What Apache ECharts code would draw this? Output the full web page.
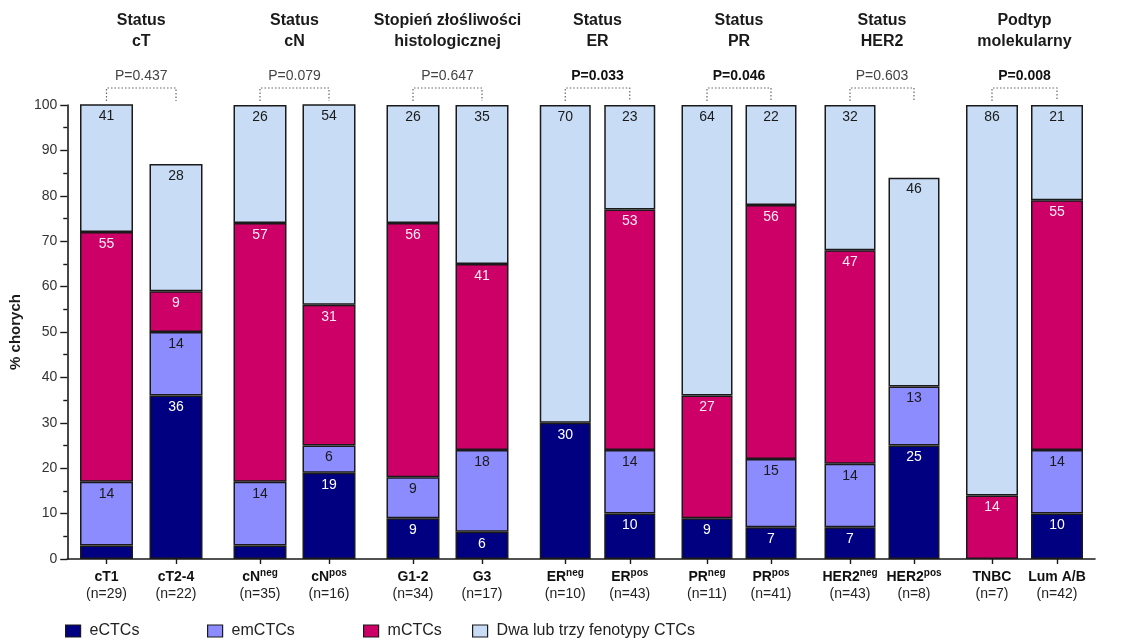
<!DOCTYPE html>
<html>
<head>
<meta charset="utf-8">
<title>Fenotypy CTCs a cechy kliniczne</title>
<script src="https://cdn.jsdelivr.net/npm/echarts@6/dist/echarts.min.js"></script>
<style>
  html, body { margin: 0; padding: 0; background: #fff; }
  #chart { width: 1132px; height: 641px; }
</style>
</head>
<body>
<div id="chart"></div>
<script>
// ---- data ----
const categories   = ['cT1', 'cT2-4', 'cN', 'cN', 'G1-2', 'G3', 'ER', 'ER', 'PR', 'PR', 'HER2', 'HER2', 'TNBC', 'Lum A/B'];
const categorySup  = ['', '', 'neg', 'pos', '', '', 'neg', 'pos', 'neg', 'pos', 'neg', 'pos', '', ''];
const patientCounts = [29, 22, 35, 16, 34, 17, 10, 43, 11, 41, 43, 8, 7, 42];

const groupTitles = ['Status\ncT', 'Status\ncN', 'Stopień złośliwości\nhistologicznej',
                     'Status\nER', 'Status\nPR', 'Status\nHER2', 'Podtyp\nmolekularny'];
const pValues = ['0.437', '0.079', '0.647', '0.033', '0.046', '0.603', '0.008'];

const seriesNames = ['eCTCs', 'emCTCs', 'mCTCs', 'Dwa lub trzy fenotypy CTCs'];
const eCTCs   = [3, 36, 3, 19, 9, 6, 30, 10, 9, 7, 7, 25, 0, 10];
const emCTCs  = [14, 14, 14, 6, 9, 18, 0, 14, 0, 15, 14, 13, 0, 14];
const mCTCs   = [55, 9, 57, 31, 56, 41, 0, 53, 27, 56, 47, 0, 14, 55];
const mixedCTCs = [41, 28, 26, 54, 26, 35, 70, 23, 64, 22, 32, 46, 86, 21];

// ---- layout & style ----
const FONT = "'Liberation Sans', Arial, Helvetica, sans-serif";
const PLOT_TOP = 105, PLOT_BOTTOM = 82;
const groupCenters = [141.25, 294.5, 447.5, 597.5, 739, 882, 1024.5];
const groupHalfSpans = [69.5, 69, 69, 64.5, 64, 64, 65];
const groupBarWidths = [53, 53, 53, 51, 51, 51, 52];
const colors = ['#000080', '#8c8cff', '#cc0066', '#c8ddf5'];
const labelColors = ['#ffffff', '#1a1a1a', '#fbeaf2', '#1a1a1a'];
const legendLefts = [65, 207, 363, 472];

const seriesValues = [eCTCs, emCTCs, mCTCs, mixedCTCs];
const nGroups = groupTitles.length;

const grids = [{ left: 66, right: 37, top: PLOT_TOP, bottom: PLOT_BOTTOM }];
const xAxes = [{
  gridIndex: 0, type: 'value', min: 0, max: 1,
  axisLine: { show: true, lineStyle: { color: '#1a1a1a', width: 1.6 } },
  axisTick: { show: false }, axisLabel: { show: false }, splitLine: { show: false }
}];
const yAxes = [{
  gridIndex: 0, type: 'value', min: 0, max: 100, interval: 10,
  name: '% chorych', nameLocation: 'middle', nameGap: 38,
  nameTextStyle: { fontSize: 15, fontWeight: 'bold', color: '#1a1a1a', fontFamily: FONT },
  axisLine: { show: true, lineStyle: { color: '#1a1a1a', width: 1.6 } },
  axisTick: { show: true, length: 7, lineStyle: { color: '#1a1a1a', width: 1.4 } },
  minorTick: { show: true, splitNumber: 2, length: 4, lineStyle: { color: '#1a1a1a', width: 1.4 } },
  axisLabel: { fontSize: 14, color: '#333', margin: 10, fontFamily: FONT },
  splitLine: { show: false }
}];
const series = [];

for (let g = 0; g < nGroups; g++) {
  const gi = g + 1;
  const idx = [2 * g, 2 * g + 1];
  grids.push({
    left: groupCenters[g] - groupHalfSpans[g],
    width: 2 * groupHalfSpans[g],
    top: PLOT_TOP, bottom: PLOT_BOTTOM
  });
  xAxes.push({
    gridIndex: gi, type: 'category',
    data: idx.map(k => categories[k] + categorySup[k]),
    axisLine: { show: false },
    axisTick: { show: true, alignWithLabel: true, length: 5, lineStyle: { color: '#1a1a1a', width: 1.4 } },
    axisLabel: {
      margin: 9, interval: 0,
      formatter: (val, i) => {
        const k = idx[i];
        const sup = categorySup[k] ? `{s|${categorySup[k]}}` : '';
        return `{b|${categories[k]}}${sup}\n{n|(n=${patientCounts[k]})}`;
      },
      rich: {
        b: { fontSize: 14, fontWeight: 'bold', color: '#111', lineHeight: 18, fontFamily: FONT },
        s: { fontSize: 10, fontWeight: 'bold', color: '#111', verticalAlign: 'top', lineHeight: 10, fontFamily: FONT },
        n: { fontSize: 14, color: '#222', lineHeight: 17, fontFamily: FONT }
      }
    }
  });
  yAxes.push({ gridIndex: gi, type: 'value', min: 0, max: 100, show: false, splitLine: { show: false } });

  seriesValues.forEach((vals, s) => {
    series.push({
      type: 'bar',
      name: seriesNames[s],
      xAxisIndex: gi, yAxisIndex: gi,
      stack: 'group' + g,
      barWidth: groupBarWidths[g],
      // empty segments are left out so they draw no outline
      data: idx.map(k => (vals[k] > 0 ? vals[k] : '-')),
      itemStyle: { color: colors[s], borderColor: '#1a1a1a', borderWidth: 1.5 },
      label: {
        show: true, position: 'insideTop', distance: 5,
        fontSize: 14, color: labelColors[s], fontFamily: FONT,
        formatter: p => (p.value >= 5 ? String(p.value) : '')
      },
      emphasis: { disabled: true }
    });
  });
}

const legends = seriesNames.map((name, i) => ({
  data: [name],
  left: legendLefts[i], top: 623, padding: 0,
  icon: 'rect', itemWidth: 15, itemHeight: 12,
  itemStyle: { borderColor: '#1a1a1a', borderWidth: 1.2 },
  textStyle: { fontSize: 16, color: '#222', fontFamily: FONT, padding: [0, 0, 0, 4] }
}));

const chart = echarts.init(document.getElementById('chart'), null, { renderer: 'canvas' });
chart.setOption({
  animation: false,
  backgroundColor: '#ffffff',
  textStyle: { fontFamily: FONT },
  grid: grids,
  xAxis: xAxes,
  yAxis: yAxes,
  legend: legends,
  series: series
});

// ---- group titles, p-values and comparison brackets, placed from the axes ----
const y100 = chart.convertToPixel({ yAxisIndex: 0 }, 100);
const graphics = [];
for (let g = 0; g < nGroups; g++) {
  const ax = xAxes[g + 1];
  const x0 = chart.convertToPixel({ xAxisIndex: g + 1 }, ax.data[0]);
  const x1 = chart.convertToPixel({ xAxisIndex: g + 1 }, ax.data[1]);
  const xc = (x0 + x1) / 2;
  const significant = parseFloat(pValues[g]) < 0.05;

  graphics.push({
    type: 'text', x: xc, y: y100 - 95, silent: true,
    style: {
      text: groupTitles[g], align: 'center', textAlign: 'center', verticalAlign: 'top', textVerticalAlign: 'top',
      fontSize: 16, fontWeight: 'bold', lineHeight: 21, fontFamily: FONT, fill: '#1a1a1a'
    }
  });
  graphics.push({
    type: 'text', x: xc, y: y100 - 29, silent: true,
    style: {
      text: 'P=' + pValues[g], align: 'center', textAlign: 'center', verticalAlign: 'middle', textVerticalAlign: 'middle',
      fontSize: 14, fontWeight: significant ? 'bold' : 'normal', fontFamily: FONT,
      fill: significant ? '#111' : '#444'
    }
  });
  graphics.push({
    type: 'polyline', silent: true,
    shape: { points: [[x0, y100 - 4], [x0, y100 - 17], [x1, y100 - 17], [x1, y100 - 4]] },
    style: { stroke: '#666', lineWidth: 1.2, lineDash: [1.5, 2], fill: null }
  });
}
chart.setOption({ graphic: { elements: graphics } });
</script>
</body>
</html>
